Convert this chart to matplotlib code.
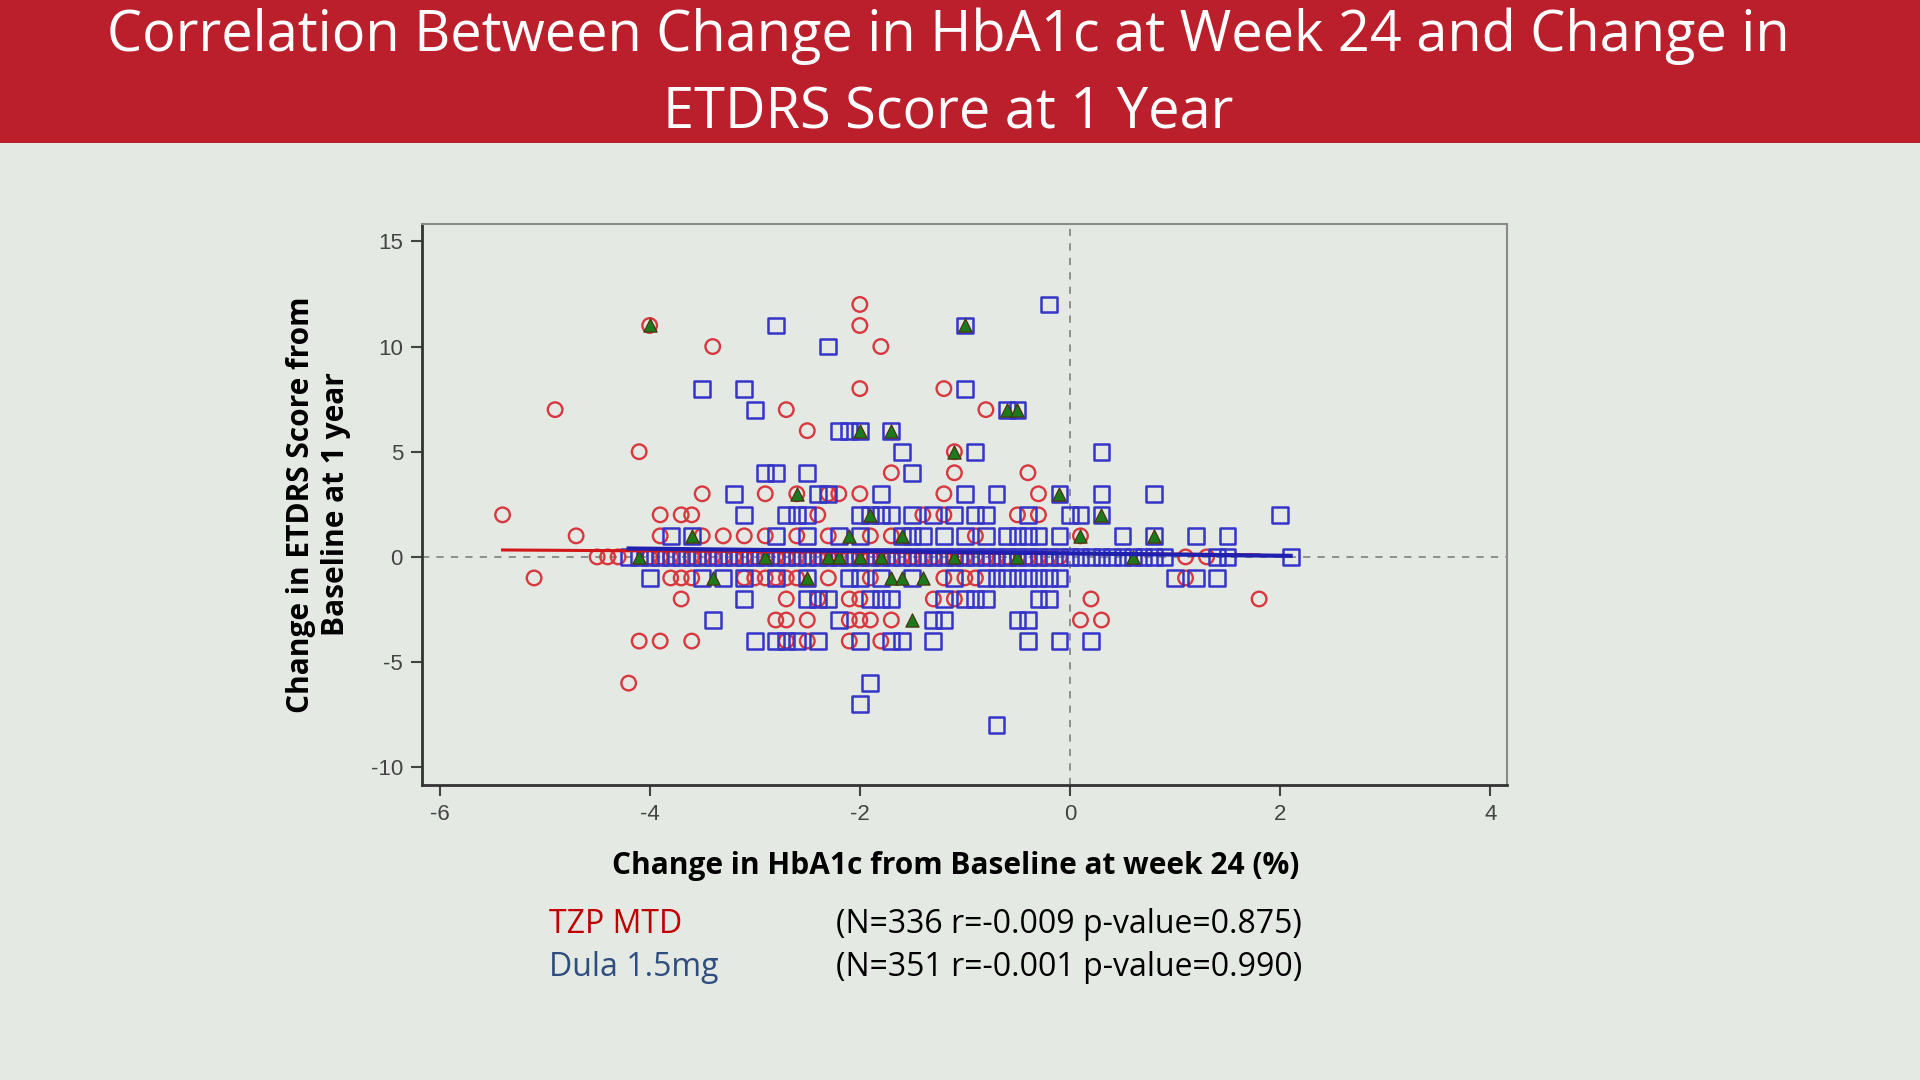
import matplotlib
matplotlib.use("Agg")
import matplotlib.pyplot as plt
import numpy as np

# ---------------- data ----------------
# TZP MTD (red circles): ETDRS change row -> HbA1c change values
tzp_rows = {
    12: [-2.0],
    11: [-4.0, -2.0],
    10: [-3.4, -1.8],
    8: [-2.0, -1.2],
    7: [-4.9, -2.7, -0.8],
    6: [-2.5],
    5: [-4.1, -1.1],
    4: [-1.7, -1.1, -0.4],
    3: [-3.5, -2.9, -2.6, -2.3, -2.2, -2.0, -1.2, -0.3],
    2: [-5.4, -3.9, -3.7, -3.6, -2.4, -1.4, -1.2, -0.5, -0.3],
    1: [-4.7, -3.9, -3.5, -3.3, -3.1, -2.9, -2.6, -2.3, -1.9, -1.7, -0.9, 0.1],
    0: [-4.5, -4.4, -4.3, -4.0, -3.9, -3.8, -3.7, -3.6, -3.5, -3.4, -3.3,
        -3.2, -3.1, -3.0, -2.9, -2.8, -2.7, -2.6, -2.5, -2.4, -2.3, -2.2,
        -2.1, -2.0, -1.9, -1.8, -1.7, -1.6, -1.5, -1.4, -1.3, -1.2, -1.1,
        -1.0, -0.9, -0.8, -0.7, -0.6, -0.5, -0.4, -0.3, -0.2, -0.1, 1.1, 1.3],
    -1: [-5.1, -3.8, -3.7, -3.6, -3.1, -3.0, -2.9, -2.8, -2.7, -2.6, -2.3,
         -1.9, -1.2, -1.0, -0.9, 1.1],
    -2: [-3.7, -2.7, -2.4, -2.1, -2.0, -1.3, -1.1, 0.2, 1.8],
    -3: [-2.8, -2.7, -2.5, -2.1, -2.0, -1.9, -1.7, 0.1, 0.3],
    -4: [-4.1, -3.9, -3.6, -2.7, -2.5, -2.1, -1.8],
    -6: [-4.2],
}

# Dula 1.5mg (blue squares)
dula_rows = {
    12: [-0.2],
    11: [-2.8, -1.0],
    10: [-2.3],
    8: [-3.5, -3.1, -1.0],
    7: [-3.0, -0.6, -0.5],
    6: [-2.2, -2.1, -2.0, -1.7],
    5: [-1.6, -0.9, 0.3],
    4: [-2.9, -2.8, -2.5, -1.5],
    3: [-3.2, -2.4, -2.3, -1.8, -1.0, -0.7, -0.1, 0.3, 0.8],
    2: [-3.1, -2.7, -2.6, -2.5, -2.0, -1.9, -1.8, -1.7, -1.5, -1.3, -1.1,
        -0.9, -0.8, -0.4, 0.0, 0.1, 0.3, 2.0],
    1: [-3.8, -3.6, -2.8, -2.5, -2.2, -2.0, -1.6, -1.5, -1.4, -1.2, -1.0,
        -0.8, -0.6, -0.5, -0.4, -0.3, -0.1, 0.5, 0.8, 1.2, 1.5],
    0: [-4.2, -4.1, -4.0, -3.9, -3.8, -3.7, -3.6, -3.5, -3.4, -3.3, -3.2,
        -3.1, -3.0, -2.9, -2.8, -2.7, -2.6, -2.5, -2.4, -2.3, -2.2, -2.1,
        -2.0, -1.9, -1.8, -1.7, -1.6, -1.5, -1.4, -1.3, -1.2, -1.1, -1.0,
        -0.9, -0.8, -0.7, -0.6, -0.5, -0.4, -0.3, -0.2, -0.1, 0.0, 0.1,
        0.2, 0.3, 0.4, 0.5, 0.6, 0.7, 0.8, 0.9, 1.4, 1.5, 2.1],
    -1: [-4.0, -3.5, -3.3, -3.1, -2.8, -2.5, -2.1, -2.0, -1.8, -1.5, -1.1,
         -0.8, -0.7, -0.6, -0.5, -0.4, -0.3, -0.2, -0.1, 1.0, 1.2, 1.4],
    -2: [-3.1, -2.5, -2.4, -2.3, -1.9, -1.8, -1.7, -1.2, -1.0, -0.9, -0.8,
         -0.3, -0.2],
    -3: [-3.4, -2.2, -1.3, -1.2, -0.5, -0.4],
    -4: [-3.0, -2.8, -2.7, -2.6, -2.4, -2.0, -1.7, -1.6, -1.3, -0.4, -0.1, 0.2],
    -6: [-1.9],
    -7: [-2.0],
    -8: [-0.7],
}

# overlapping points (green triangles)
overlap_x = [-4.0, -1.0, -0.6, -0.5, -2.0, -1.7, -1.1, -2.6, -0.1, -1.9, 0.3,
             -3.6, -2.1, -1.6, 0.1, 0.8, -4.1, -2.9, -2.3, -2.2, -2.0, -1.8,
             -1.1, -0.5, 0.6, -3.4, -2.5, -1.7, -1.6, -1.4, -1.5]
overlap_y = [11, 11, 7, 7, 6, 6, 5, 3, 3, 2, 2,
             1, 1, 1, 1, 1, 0, 0, 0, 0, 0, 0,
             0, 0, 0, -1, -1, -1, -1, -1, -3]

# regression lines: (x range, y at ends)
tzp_fit_x = [-5.4, 1.8]
tzp_fit_y = [0.33, 0.10]
dula_fit_x = [-4.2, 2.1]
dula_fit_y = [0.40, 0.05]

x_ticks = [-6, -4, -2, 0, 2, 4]
y_ticks = [-10, -5, 0, 5, 10, 15]

title_text = "Correlation Between Change in HbA1c at Week 24 and Change in\nETDRS Score at 1 Year"
x_label = "Change in HbA1c from Baseline at week 24 (%)"
y_label = "Change in ETDRS Score from\nBaseline at 1 year"
groups = ["TZP MTD", "Dula 1.5mg"]
stats = ["(N=336 r=-0.009 p-value=0.875)", "(N=351 r=-0.001 p-value=0.990)"]

# ---------------- styling ----------------
BG = "#E4E9E3"
BANNER = "#BB1F2B"
RED = "#D8383F"
BLUE = "#3535C8"
GREEN = "#1B7A1B"

def flatten(rows):
    xs, ys = [], []
    for y, xl in rows.items():
        for x in xl:
            xs.append(x)
            ys.append(y)
    return np.array(xs), np.array(ys)

tx, ty = flatten(tzp_rows)
dx, dy = flatten(dula_rows)

fig = plt.figure(figsize=(19.2, 10.8), dpi=100, facecolor=BG)

# banner
fig.patches.append(plt.Rectangle((0, 0.8676), 1, 0.1324, transform=fig.transFigure,
                                 facecolor=BANNER, edgecolor="none", zorder=0))
fig.text(0.494, 0.9305, title_text, ha="center", va="center", color="white",
         fontsize=40.2, family="Open Sans", linespacing=1.46)

ax = fig.add_axes([0.2200, 0.2732, 0.5651, 0.5193])
ax.set_facecolor(BG)
ax.set_xlim(-6.163, 4.163)
ax.set_ylim(-10.84, 15.82)

ax.axhline(0, color="#888888", lw=1.3, ls=(0, (4, 4)), zorder=1)
ax.axvline(0, color="#888888", lw=1.3, ls=(0, (4, 4)), zorder=1)

ax.scatter(tx, ty, s=110, marker="o", facecolors="none", edgecolors=RED,
           linewidths=1.7, zorder=3)
ax.scatter(dx, dy, s=130, marker="s", facecolors="none", edgecolors=BLUE,
           linewidths=1.8, zorder=4)
ax.scatter(overlap_x, overlap_y, s=90, marker="^", facecolors=GREEN,
           edgecolors="#4a3510", linewidths=0.9, zorder=5)

ax.plot(tzp_fit_x, tzp_fit_y, color="#D01818", lw=2.2, zorder=6)
ax.plot(dula_fit_x, dula_fit_y, color="#2020B0", lw=3.0, zorder=6)

ax.set_xticks(x_ticks)
ax.set_yticks(y_ticks)
ax.set_xticklabels([str(t) for t in x_ticks])
ax.set_yticklabels([str(t) for t in y_ticks])
ax.tick_params(axis="both", direction="out", length=8, width=1.5,
               colors="#444444", labelsize=16, pad=6)
for lab in ax.get_xticklabels() + ax.get_yticklabels():
    lab.set_family("Liberation Sans")
    lab.set_color("#444444")

for side in ("left", "bottom"):
    ax.spines[side].set_color("#333333")
    ax.spines[side].set_linewidth(2.0)
for side in ("top", "right"):
    ax.spines[side].set_color("#8a8a8a")
    ax.spines[side].set_linewidth(1.5)

fig.text(0.166, 0.533, y_label, rotation=90, ha="center", va="center",
         fontsize=21.5, fontweight="bold", family="Open Sans", color="black",
         linespacing=1.2)
fig.text(0.498, 0.1984, x_label, ha="center", va="center",
         fontsize=21.5, fontweight="bold", family="Open Sans", color="black")

fig.text(0.2857, 0.1440, groups[0], ha="left", va="center", fontsize=23,
         family="Open Sans", color="#C00000")
fig.text(0.2857, 0.1043, groups[1], ha="left", va="center", fontsize=23,
         family="Open Sans", color="#2F4E7E")
fig.text(0.4356, 0.1440, stats[0], ha="left", va="center", fontsize=23,
         family="Open Sans", color="black")
fig.text(0.4356, 0.1043, stats[1], ha="left", va="center", fontsize=23,
         family="Open Sans", color="black")

fig.savefig("out.png", dpi=100, facecolor=BG)
